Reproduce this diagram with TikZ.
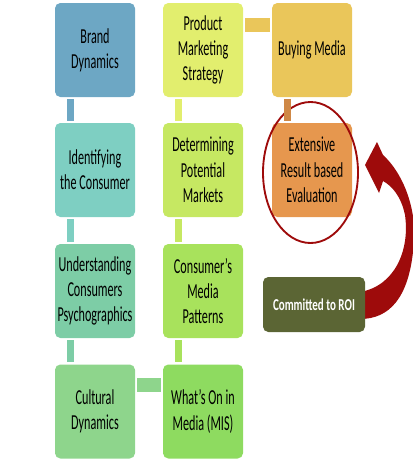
\documentclass[tikz,border=0pt]{standalone}
\usepackage{fontspec}
\setmainfont{Carlito}[FakeStretch=0.57]
\newfontfamily\roifont{Carlito}[FakeStretch=0.66]
\usetikzlibrary{shapes.geometric}
\definecolor{cBD}{HTML}{6DA7C4}
\definecolor{cID}{HTML}{7ECFC2}
\definecolor{cUN}{HTML}{7DCDA6}
\definecolor{cCU}{HTML}{8ED58C}
\definecolor{cPM}{HTML}{E2EE6E}
\definecolor{cDP}{HTML}{C6E862}
\definecolor{cCM}{HTML}{A8E25C}
\definecolor{cWO}{HTML}{8EDB60}
\definecolor{cBM}{HTML}{EAC65A}
\definecolor{cEX}{HTML}{E6974E}
\definecolor{cRO}{HTML}{5B6534}
\definecolor{cRED}{HTML}{9E0B0B}
\tikzset{
  box/.style={rounded corners=4pt, minimum width=60pt, minimum height=70.5pt,
    align=center, inner sep=1pt, font=\fontsize{16}{19}\selectfont, text=black},
  vbar/.style={line width=5.25pt, line cap=butt},
  hbar/.style={line width=10.5pt, line cap=butt}
}
\begin{document}
\begin{tikzpicture}[x=0.75pt,y=-0.75pt]
\useasboundingbox (0,0) rectangle (413,461);
\clip (0,0) rectangle (413,461);
% curved arrow
\fill[cRED] (365,165) -- (377,142) -- (383,155)
  .. controls (405,175) and (419,215) .. (413,252)
  .. controls (408,297) and (390,319) .. (360,319)
  -- (360,292)
  .. controls (395,286) and (410,250) .. (405,215)
  .. controls (401,196) and (392,186) .. (383,181)
  -- (379,193) -- cycle;
% boxes
\node[box, fill=cBD] (bd) at (95,50) {Brand\\Dynamics};
\node[box, fill=cID] (id) at (95,170) {Identifying\\the Consumer};
\node[box, fill=cUN] (un) at (95,291) {Understanding\\Consumers\\Psychographics};
\node[box, fill=cCU] (cu) at (95,411.5) {Cultural\\Dynamics};
\node[box, fill=cPM] (pm) at (203,50) {Product\\Marketing\\Strategy};
\node[box, fill=cDP] (dp) at (203,170) {Determining\\Potential\\Markets};
\node[box, fill=cCM] (cm) at (203,291) {Consumer’s\\Media\\Patterns};
\node[box, fill=cWO] (wo) at (203,411.5) {What’s On in\\Media (MIS)};
\node[box, fill=cBM] (bm) at (312,50) {Buying Media};
\node[box, fill=cEX] (ex) at (312,170) {Extensive\\Result based\\Evaluation};
\node[rounded corners=4pt, fill=cRO, minimum width=76.5pt, minimum height=41.25pt,
  text=white, font=\roifont\fontsize{12.5}{14}\selectfont\bfseries] (roi) at (314,304.5) {Committed to ROI};
% ring
\node[ellipse, draw=cRED, line width=1.4pt, minimum width=71.25pt, minimum height=105.75pt, inner sep=0pt] (ring) at (310.5,172.5) {};
% connectors
\draw[vbar, draw=cBD] ([shift={(15.5,2)}]bd.south west) -- ([shift={(15.5,-2)}]id.north west);
\draw[vbar, draw=cID] ([shift={(15.5,2)}]id.south west) -- ([shift={(15.5,-2)}]un.north west);
\draw[vbar, draw=cUN] ([shift={(15.5,2)}]un.south west) -- ([shift={(15.5,-2)}]cu.north west);
\draw[vbar, draw=cPM] ([shift={(16,2)}]pm.south west) -- ([shift={(16,-2)}]dp.north west);
\draw[vbar, draw=cDP] ([shift={(16,2)}]dp.south west) -- ([shift={(16,-2)}]cm.north west);
\draw[vbar, draw=cCM] ([shift={(16,2)}]cm.south west) -- ([shift={(16,-2)}]wo.north west);
\draw[vbar, draw=cEX!90!black] ([shift={(15.5,2)}]bm.south west) -- ([shift={(15.5,-2)}]ex.north west);
\draw[hbar, draw=cBM] ([shift={(2,22)}]pm.north east) -- ([shift={(-2,22)}]bm.north west);
\draw[hbar, draw=cCU] ([shift={(2,21)}]cu.north east) -- ([shift={(-2,21)}]wo.north west);
\end{tikzpicture}
\end{document}
